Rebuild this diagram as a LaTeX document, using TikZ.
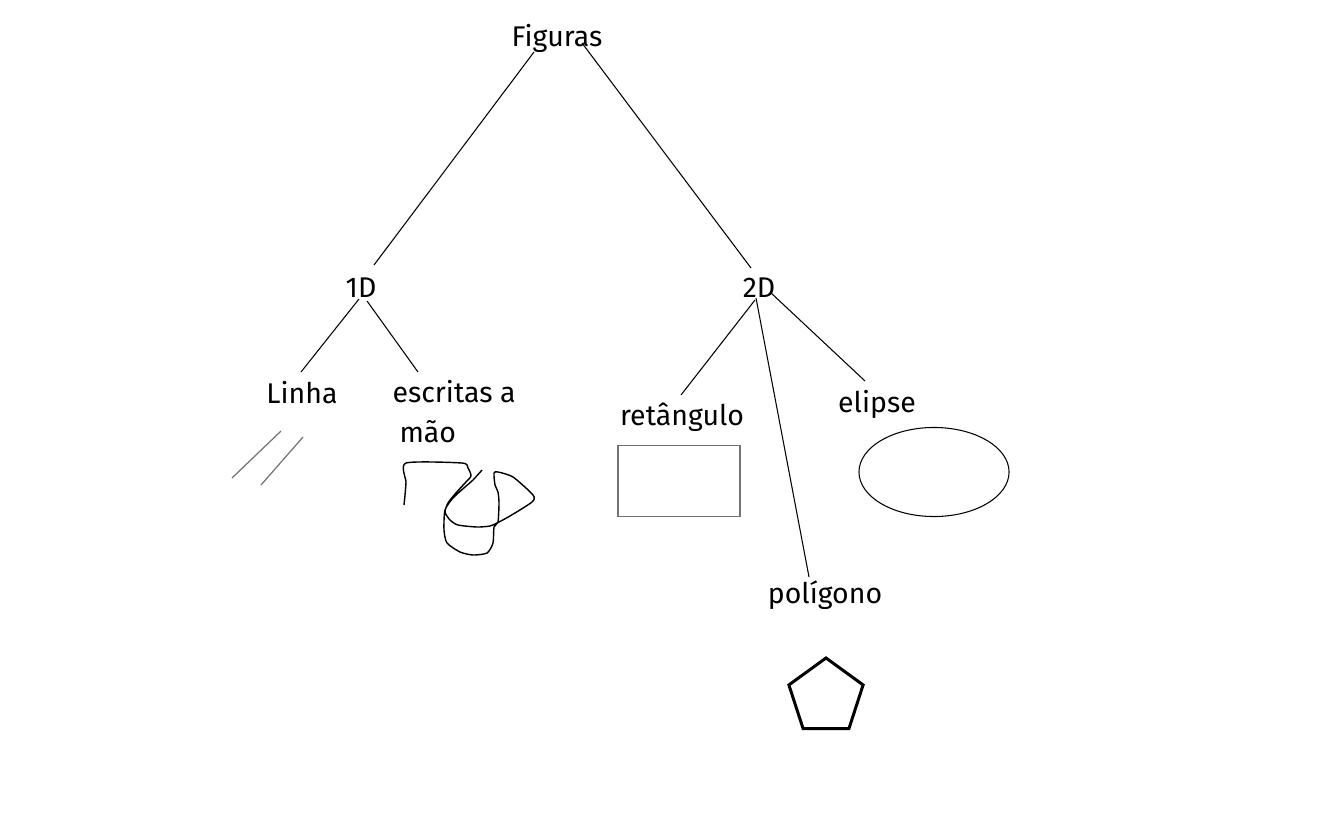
\documentclass[tikz,border=0pt]{standalone}
\usepackage{fontspec}
\setmainfont{Fira Sans}
\usetikzlibrary{shapes.geometric}

\begin{document}
\begin{tikzpicture}[x=0.01cm,y=-0.01cm,font=\fontsize{8.1}{11.1}\selectfont,every path/.style={line width=0.3pt},txt/.style={inner sep=0pt,anchor=base},sketch/.style={draw=black!55,line width=0.35pt}]
	\useasboundingbox (0,0) rectangle (1340,824);

	\node[txt] (fig) at (557,47) {Figuras};
	\node[txt] (d1) at (361,297) {1D};
	\node[txt] (d2) at (759,297) {2D};
	\node[txt] (linha) at (302,403) {Linha};
	\node[txt,anchor=base west,align=left] (escr) at (392,442) {escritas a\\\hspace*{2pt}mão};
	\node[txt] (ret) at (682,425) {retângulo};
	\node[txt] (elip) at (877,412) {elipse};
	\node[txt] (poly) at (825,603) {polígono};

	\draw ([shift={(-23,5)}]fig.base) -- ([shift={(13,-32)}]d1.base);
	\draw ([shift={(25,-4)}]fig.base) -- ([shift={(-8,-29)}]d2.base);
	\draw ([shift={(-2,2)}]d1.base) -- ([shift={(-1,-31)}]linha.base);
	\draw ([shift={(6,4)}]d1.base) -- ([shift={(26,-70)}]escr.base west);
	\draw ([shift={(-4,3)}]d2.base) -- ([shift={(-1,-30)}]ret.base);
	\draw ([shift={(-3,1)}]d2.base) -- ([shift={(-16,-26)}]poly.base);
	\draw ([shift={(11,-5)}]d2.base) -- ([shift={(-12,-31)}]elip.base);

	% figures
	\draw[sketch] (232,478) -- (281,431);
	\draw[sketch] (261,485) -- (303,437);
	\draw[line width=0.4pt] plot[smooth,tension=0.4] coordinates {(404,505) (405,495) (406,482) (406,463) (462,463) (468,468) (471,476) (465,483) (455,494) (448,503) (445,512) (450,520) (458,525) (477,527) (490,526) (497,523) (510,516) (532,502) (533,495) (513,477) (498,472) (494,473) (495,485) (498,492) (499,503) (498,522) (494,527) (493,543) (487,553) (473,555) (460,552) (447,543) (444,530) (445,510) (453,498) (465,487) (473,480) (482,470)};
	\node[rectangle,draw=black!55,line width=0.4pt,minimum width=1.22cm,minimum height=0.71cm,inner sep=0pt] (box) at (679,481) {};
	\node[ellipse,draw,line width=0.3pt,minimum width=1.5cm,minimum height=0.89cm,inner sep=0pt] (oval) at (934,472) {};
	\node[regular polygon,regular polygon sides=5,draw,line width=0.85pt,minimum size=0.78cm,inner sep=0pt] (penta) at (826,697) {};
\end{tikzpicture}
\end{document}
